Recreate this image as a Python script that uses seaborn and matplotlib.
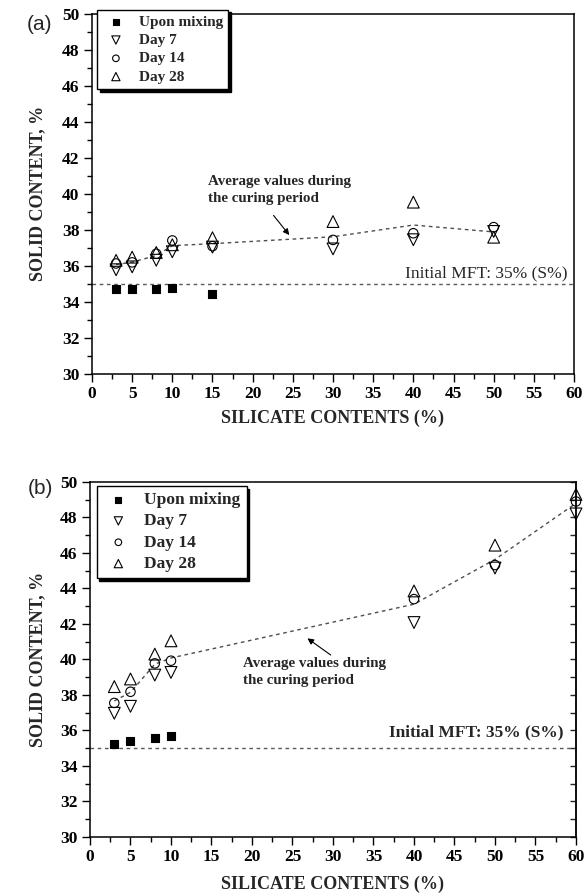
import numpy as np
import pandas as pd
import matplotlib
matplotlib.use("Agg")
import matplotlib.pyplot as plt
from matplotlib.ticker import MultipleLocator
import seaborn as sns

# ---- Panel (a): solids content vs. silicate dosage ----
a_mix_x = [3, 5, 8, 10, 15]
a_mix_y = [34.70, 34.70, 34.70, 34.78, 34.44]
a_cure_x = [3, 5, 8, 10, 15, 30, 40, 50]
a_day7 = [35.78, 35.94, 36.31, 36.78, 37.04, 36.94, 37.45, 37.91]
a_day14 = [36.13, 36.19, 36.67, 37.41, 37.09, 37.44, 37.81, 38.15]
a_day28 = [36.30, 36.48, 36.74, 37.17, 37.56, 38.46, 39.54, 37.59]

# ---- Panel (b) ----
b_mix_x = [3, 5, 8, 10]
b_mix_y = [35.25, 35.38, 35.56, 35.70]
b_cure_x = [3, 5, 8, 10, 40, 50, 60]
b_day7 = [36.97, 37.36, 39.12, 39.27, 42.08, 45.15, 48.20]
b_day14 = [37.55, 38.18, 39.78, 39.93, 43.40, 45.32, 48.90]
b_day28 = [38.47, 38.90, 40.30, 41.05, 43.86, 46.44, 49.30]

series_labels = ["Upon mixing", "Day 7", "Day 14", "Day 28"]
initial_mft = 35.0
x_limits = (0, 60)
y_limits = (30, 50)

sns.set_style("ticks")
plt.rcParams["font.family"] = ["Liberation Serif", "DejaVu Serif"]
plt.rcParams["axes.linewidth"] = 1.1

SERIF = "Liberation Serif"
SANS = "Liberation Sans"
LABEL_SIZE = 13

fig = plt.figure(figsize=(5.84, 8.94), dpi=100)

marker_specs = {
    "Upon mixing": dict(marker="s", s=36, facecolor="black"),
    "Day 7": dict(marker="v", s=72, facecolor="none"),
    "Day 14": dict(marker="o", s=46, facecolor="none"),
    "Day 28": dict(marker="^", s=72, facecolor="none"),
}


def draw_panel(ax, mix_x, mix_y, cure_x, d7, d14, d28, legend_size,
               legend_anchor, legend_spacing):
    cured = pd.DataFrame({
        "silicate": list(cure_x) * 3,
        "solid": list(d7) + list(d14) + list(d28),
        "age": ["Day 7"] * len(cure_x) + ["Day 14"] * len(cure_x)
               + ["Day 28"] * len(cure_x),
    })
    # mean over the three curing ages
    sns.lineplot(data=cured, x="silicate", y="solid", estimator="mean",
                 errorbar=None, color="0.3", lw=1.0,
                 linestyle=(0, (2.6, 2.6)), ax=ax, zorder=2)
    ax.axhline(initial_mft, color="0.35", lw=1.0, linestyle=(0, (2.6, 2.6)),
               zorder=1)

    series_data = {
        "Upon mixing": (mix_x, mix_y),
        "Day 7": (cure_x, d7),
        "Day 14": (cure_x, d14),
        "Day 28": (cure_x, d28),
    }
    for lbl in series_labels:
        xs, ys = series_data[lbl]
        spec = marker_specs[lbl]
        sns.scatterplot(x=list(xs), y=list(ys), marker=spec["marker"],
                        s=spec["s"], facecolor=spec["facecolor"],
                        edgecolor="black", linewidth=0.8, label=lbl,
                        ax=ax, zorder=3, clip_on=False)

    ax.set_xlim(*x_limits)
    ax.set_ylim(*y_limits)
    ax.xaxis.set_major_locator(MultipleLocator(5))
    ax.xaxis.set_minor_locator(MultipleLocator(2.5))
    ax.yaxis.set_major_locator(MultipleLocator(2))
    ax.yaxis.set_minor_locator(MultipleLocator(1))
    ax.tick_params(which="both", direction="out", top=False, right=False,
                   width=1.0, colors="black")
    ax.tick_params(which="major", length=6, labelsize=12.5, pad=3)
    ax.tick_params(which="minor", length=3.5)
    for lab in ax.get_xticklabels() + ax.get_yticklabels():
        lab.set_fontweight("bold")
        lab.set_family(SERIF)
    for sp in ax.spines.values():
        sp.set_visible(True)
        sp.set_color("black")

    ax.set_xlabel("SILICATE CONTENTS (%)", fontsize=LABEL_SIZE,
                  fontweight="bold", family=SERIF)
    ax.set_ylabel("SOLID CONTENT, %", fontsize=LABEL_SIZE,
                  fontweight="bold", family=SERIF)
    ax.xaxis.label.set_va("center")
    ax.yaxis.label.set_va("center")

    leg = ax.legend(loc="upper left", bbox_to_anchor=legend_anchor,
                    borderaxespad=0, frameon=True, fancybox=False,
                    framealpha=1, edgecolor="black",
                    shadow={"color": "black", "alpha": 1},
                    prop={"family": SERIF, "weight": "bold",
                          "size": legend_size},
                    markerscale=0.7, handletextpad=0.6,
                    labelspacing=legend_spacing,
                    borderpad=0.35, handlelength=1.8)
    leg.get_frame().set_linewidth(1.0)
    return ax


# panel (a)
ax_a = fig.add_axes([0.1575, 0.5820, 0.8254, 0.4023])
draw_panel(ax_a, a_mix_x, a_mix_y, a_cure_x, a_day7, a_day14, a_day28,
           legend_size=11, legend_anchor=(0.01, 1.012), legend_spacing=0.3)
ax_a.yaxis.set_label_coords(-0.112, 0.5)
ax_a.xaxis.set_label_coords(0.5, -0.125)
ax_a.text(14.4, 40.24, "Average values during\nthe curing period",
          fontsize=10.8, fontweight="bold", family=SERIF, ha="left",
          va="center", linespacing=1.4)
ax_a.annotate("", xy=(24.56, 37.71), xytext=(22.6, 38.8),
              arrowprops=dict(arrowstyle="-|>", color="black", lw=0.8,
                              mutation_scale=9, shrinkA=0, shrinkB=0))
ax_a.text(59.2, 35.55, "Initial MFT: 35% (S%)", fontsize=12.5,
          fontweight="normal", family=SERIF, ha="right", va="center")

# panel (b)
ax_b = fig.add_axes([0.1541, 0.0638, 0.8322, 0.3971])
draw_panel(ax_b, b_mix_x, b_mix_y, b_cure_x, b_day7, b_day14, b_day28,
           legend_size=12.5, legend_anchor=(0.0137, 0.989),
           legend_spacing=0.3)
ax_b.yaxis.set_label_coords(-0.1066, 0.5)
ax_b.xaxis.set_label_coords(0.5, -0.133)
ax_b.text(18.9, 39.27, "Average values during\nthe curing period",
          fontsize=10.8, fontweight="bold", family=SERIF, ha="left",
          va="center", linespacing=1.4)
ax_b.annotate("", xy=(26.84, 41.19), xytext=(29.72, 40.25),
              arrowprops=dict(arrowstyle="-|>", color="black", lw=0.8,
                              mutation_scale=9, shrinkA=0, shrinkB=0))
ax_b.text(58.4, 35.88, "Initial MFT: 35% (S%)", fontsize=12.5,
          fontweight="bold", family=SERIF, ha="right", va="center")
# inward ticks along the right edge of panel (b)
sec = ax_b.secondary_yaxis("right")
sec.yaxis.set_major_locator(MultipleLocator(1))
sec.tick_params(direction="in", length=4, width=1.0, labelright=False)

fig.text(40 / 584, 1 - 24 / 894, "(a)", family=SANS, fontsize=15,
         ha="center", va="center")
fig.text(40 / 584, 1 - 488 / 894, "(b)", family=SANS, fontsize=15,
         ha="center", va="center")

fig.savefig("out.png", dpi=100)
